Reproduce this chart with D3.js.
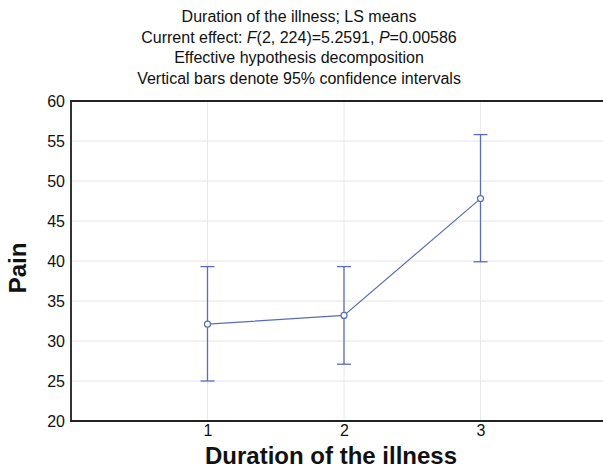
<!DOCTYPE html>
<html>
<head>
<meta charset="utf-8">
<script src="https://cdn.jsdelivr.net/npm/d3@7"></script>
<style>
  body { margin: 0; background: #fff; }
  text { font-family: "Liberation Sans", Arial, sans-serif; fill: #111; }
</style>
</head>
<body>
<svg id="chart" width="603" height="470"></svg>
<script>
// data
const groups = [1, 2, 3];
const means = [32.1, 33.2, 47.8];
const upper = [39.3, 39.3, 55.8];
const lower = [25.0, 27.1, 39.9];
const yTicks = [20, 25, 30, 35, 40, 45, 50, 55, 60];
const titleLines = [
  "Duration of the illness; LS means",
  null,
  "Effective hypothesis decomposition",
  "Vertical bars denote 95% confidence intervals"
];

const svg = d3.select("#chart");
const blue = "#5b6cb8";

const x = d3.scaleLinear().domain([0, 4]).range([71, 617]);
const y = d3.scaleLinear().domain([20, 60]).range([421, 101]);

// grid
svg.append("g").selectAll("line")
  .data(yTicks.slice(1, -1))
  .enter().append("line")
  .attr("x1", x(0)).attr("x2", 603)
  .attr("y1", d => y(d)).attr("y2", d => y(d))
  .attr("stroke", "#e4e4ec").attr("stroke-width", 1);

svg.append("g").selectAll("line")
  .data(groups)
  .enter().append("line")
  .attr("x1", d => x(d)).attr("x2", d => x(d))
  .attr("y1", y(60)).attr("y2", y(20))
  .attr("stroke", "#e8e8f2").attr("stroke-width", 1);

// axes
const yAxis = svg.append("g")
  .attr("transform", "translate(" + x(0) + ",0)")
  .call(d3.axisLeft(y).tickValues(yTicks).tickSize(0).tickPadding(6));
yAxis.select(".domain").remove();
yAxis.selectAll("text").style("font-size", "16px").attr("fill", "#111");

const xAxis = svg.append("g")
  .attr("transform", "translate(0," + y(20) + ")")
  .call(d3.axisBottom(x).tickValues(groups).tickFormat(d3.format("d")).tickSize(0).tickPadding(4));
xAxis.select(".domain").remove();
xAxis.selectAll("text").style("font-size", "16px").attr("fill", "#111");

// frame: left, bottom, top
svg.append("line").attr("x1", x(0)).attr("x2", x(0)).attr("y1", y(60) - 1).attr("y2", y(20) + 1)
  .attr("stroke", "#333").attr("stroke-width", 2);
svg.append("line").attr("x1", x(0) - 1).attr("x2", 603).attr("y1", y(20)).attr("y2", y(20))
  .attr("stroke", "#222").attr("stroke-width", 2);
svg.append("line").attr("x1", x(0) - 1).attr("x2", 603).attr("y1", y(60)).attr("y2", y(60))
  .attr("stroke", "#222").attr("stroke-width", 2);

// error bars
const eb = svg.append("g").attr("stroke", blue).attr("stroke-width", 1.3);
groups.forEach((g, i) => {
  eb.append("line").attr("x1", x(g)).attr("x2", x(g))
    .attr("y1", y(lower[i])).attr("y2", y(upper[i]));
  eb.append("line").attr("x1", x(g) - 7).attr("x2", x(g) + 7)
    .attr("y1", y(upper[i])).attr("y2", y(upper[i]));
  eb.append("line").attr("x1", x(g) - 7).attr("x2", x(g) + 7)
    .attr("y1", y(lower[i])).attr("y2", y(lower[i]));
});

// mean line + markers
const line = d3.line().x((d, i) => x(groups[i])).y(d => y(d));
svg.append("path").datum(means)
  .attr("d", line).attr("fill", "none")
  .attr("stroke", blue).attr("stroke-width", 1.2);

svg.append("g").selectAll("circle")
  .data(means).enter().append("circle")
  .attr("cx", (d, i) => x(groups[i])).attr("cy", d => y(d))
  .attr("r", 3).attr("fill", "#fff")
  .attr("stroke", blue).attr("stroke-width", 1.2);

// title
const title = svg.append("g").style("font-size", "16px").attr("text-anchor", "middle");
titleLines.forEach((t, i) => {
  const tx = title.append("text").attr("x", 299).attr("y", 22 + i * 20.5);
  if (t) { tx.text(t); return; }
  tx.append("tspan").text("Current effect: ");
  tx.append("tspan").style("font-style", "italic").text("F");
  tx.append("tspan").text("(2, 224)=5.2591, ");
  tx.append("tspan").style("font-style", "italic").text("P");
  tx.append("tspan").text("=0.00586");
});

// axis labels
svg.append("text")
  .attr("x", 331).attr("y", 464)
  .attr("text-anchor", "middle")
  .style("font-size", "24px").style("font-weight", "bold")
  .text("Duration of the illness");

svg.append("text")
  .attr("transform", "translate(26,268) rotate(-90)")
  .attr("text-anchor", "middle")
  .style("font-size", "24px").style("font-weight", "bold")
  .text("Pain");
</script>
</body>
</html>
